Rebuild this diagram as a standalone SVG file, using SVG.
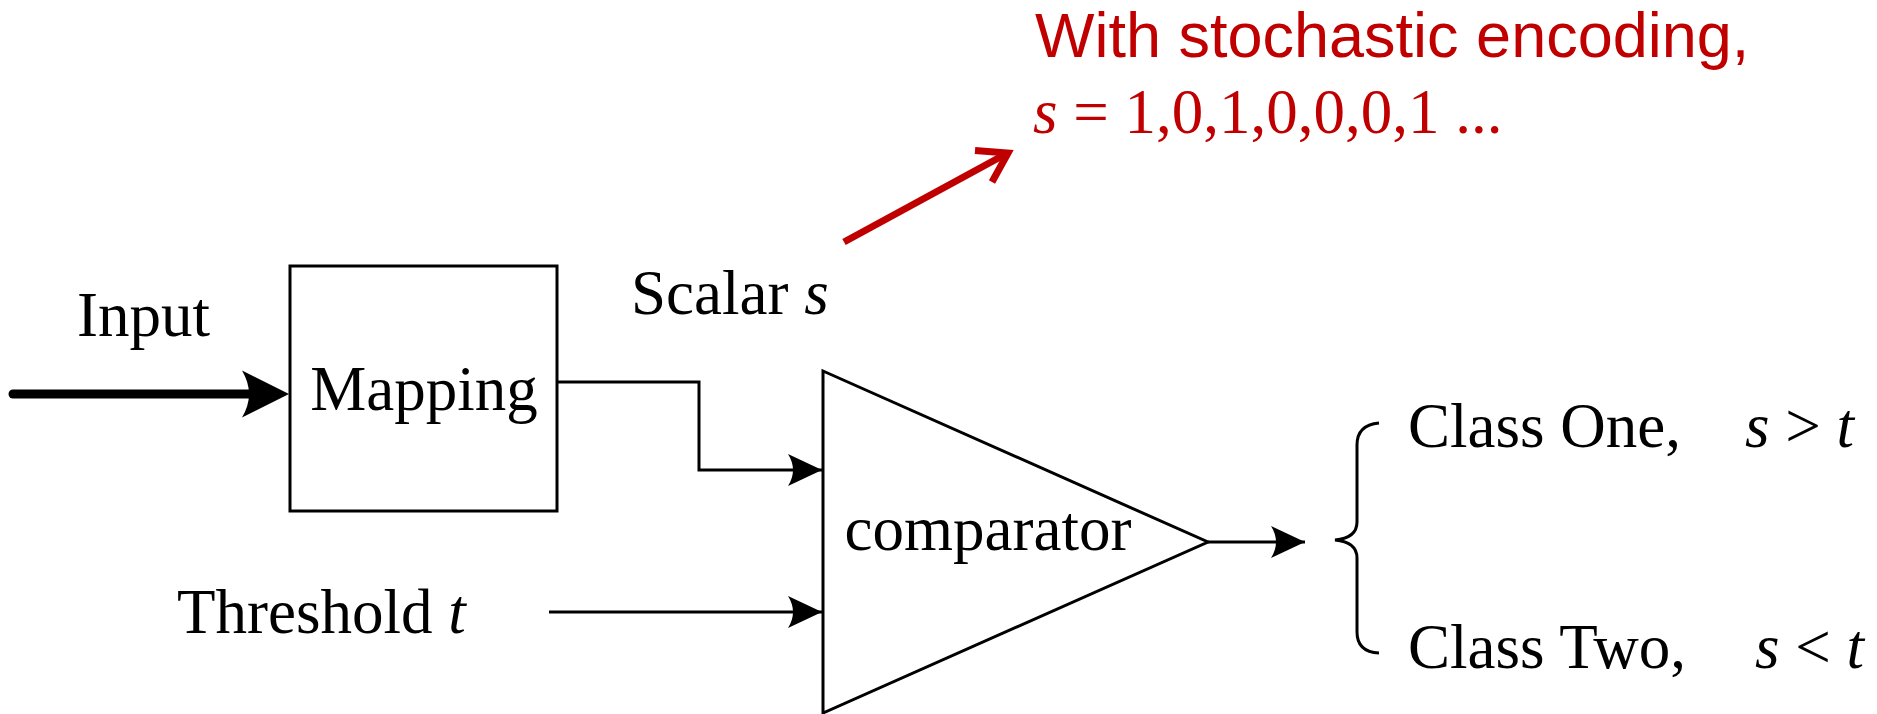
<svg xmlns="http://www.w3.org/2000/svg" width="1877" height="714" viewBox="0 0 1877 714">
<style>
.t{font-family:"Liberation Serif","Times New Roman",serif;font-size:63px;fill:#000}
.r{fill:#C00000}
.a{font-family:"Liberation Sans",Arial,sans-serif;font-size:63px;fill:#C00000}
.ln{fill:none;stroke:#000;stroke-width:3}
</style>
<defs>
<marker id="ah" markerUnits="userSpaceOnUse" viewBox="-36 -18 38 36" refX="0" refY="0" markerWidth="38" markerHeight="36" orient="auto">
<path d="M0,0 L-34,-16 Q-24,0 -34,16 Z" fill="#000"/>
</marker>
</defs>
<rect width="1877" height="714" fill="#fff"/>
<g id="mapping">
<rect x="290" y="266" width="267" height="245" class="ln"/>
<text x="424" y="410" class="t" text-anchor="middle">Mapping</text>
</g>
<g id="comparator">
<path d="M823,371 L1208,542 L823,713 Z" class="ln" stroke-linejoin="miter"/>
<text x="988" y="550" class="t" text-anchor="middle">comparator</text>
</g>
<g id="labels">
<text x="77" y="336" class="t">Input</text>
<text x="631" y="314" class="t">Scalar <tspan font-style="italic">s</tspan></text>
<text x="177" y="633" class="t">Threshold <tspan font-style="italic">t</tspan></text>
</g>
<g id="classes">
<path d="M1379,423 Q1357,425 1357,445 L1357,522 Q1357,538 1335,540 Q1357,542 1357,558 L1357,632 Q1357,652 1379,653" class="ln"/>
<text x="1408" y="447" class="t">Class One,</text>
<text x="1745" y="447" class="t"><tspan font-style="italic">s</tspan> &gt; <tspan font-style="italic">t</tspan></text>
<text x="1408" y="668" class="t">Class Two,</text>
<text x="1755" y="668" class="t"><tspan font-style="italic">s</tspan> &lt; <tspan font-style="italic">t</tspan></text>
</g>
<g id="note">
<text x="1035" y="57" class="a">With stochastic encoding,</text>
<text x="1033" y="133" class="t r"><tspan font-style="italic">s</tspan> = 1,0,1,0,0,0,1 ...</text>
</g>
<g id="connectors">
<line x1="13" y1="394" x2="256" y2="394" stroke="#000" stroke-width="9" stroke-linecap="round"/>
<path d="M289,394 L242,370.5 Q256,394 242,417.5 Z" fill="#000"/>
<polyline points="557,382 699,382 699,470 822,470" class="ln" marker-end="url(#ah)"/>
<line x1="549" y1="612" x2="822" y2="612" class="ln" marker-end="url(#ah)"/>
<line x1="1208" y1="542" x2="1305" y2="542" class="ln" marker-end="url(#ah)"/>
<line x1="844" y1="242" x2="1004" y2="155" stroke="#C00000" stroke-width="7"/>
<polyline points="975,150.5 1008,153 992,182" fill="none" stroke="#C00000" stroke-width="7" stroke-linejoin="miter"/>
</g>
</svg>
